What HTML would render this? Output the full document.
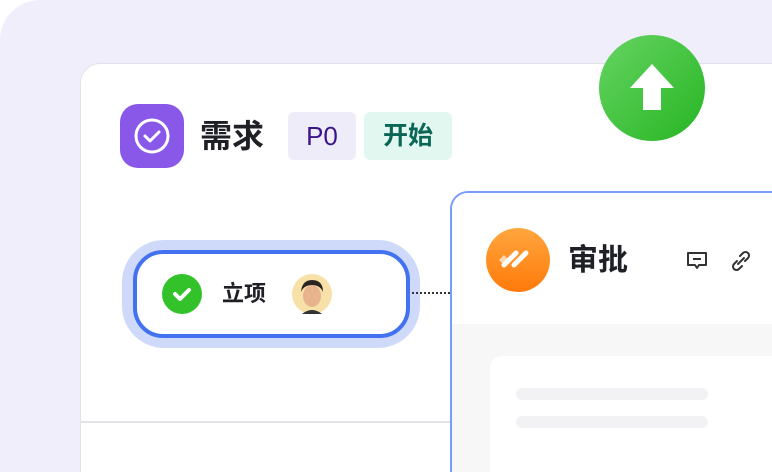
<!DOCTYPE html>
<html style="width:772px;height:472px;overflow:hidden"><head><meta charset="utf-8"><style>
*{margin:0;padding:0;box-sizing:border-box}
body{width:772px;height:472px;overflow:hidden;background:#fff;position:relative;font-family:"Liberation Sans","Noto Sans CJK SC",sans-serif}
div{position:absolute}
</style></head><body>
<div style="left:0;top:0;width:772px;height:472px;overflow:hidden">
<div style="left:0;top:0;width:820px;height:520px;background:#f0eefb;border-radius:40px"></div>
<div style="left:80px;top:63px;width:760px;height:460px;background:#fff;border:1px solid #e2e2ea;border-radius:20px"></div>
<div style="left:80px;top:421px;width:372px;height:2px;background:#e4e4e8"></div>
<div style="left:120px;top:104px;width:64px;height:64px;background:#8a58e8;border-radius:18px"></div>
<svg style="position:absolute;left:120px;top:104px" width="64" height="64"><circle cx="32" cy="32" r="16" fill="none" stroke="#fff" stroke-width="3"/><path d="M25 32 l5 5 l9 -9" fill="none" stroke="#fff" stroke-width="3" stroke-linecap="round" stroke-linejoin="round"/></svg>
<div style="left:200px;top:114px;font-size:32px;font-weight:bold;color:#1f2026;line-height:44px">需求</div>
<div style="left:288px;top:112px;width:68px;height:48px;background:#efecf9;border-radius:6px;color:#3a148a;font-size:26px;line-height:48px;text-align:center">P0</div>
<div style="left:364px;top:112px;width:88px;height:48px;background:#e3f7f1;border-radius:6px;color:#0b6655;font-size:25px;font-weight:bold;line-height:48px;text-align:center">开始</div>
<div style="left:122px;top:240px;width:298px;height:108px;background:#cfdafa;border-radius:42px"></div>
<div style="left:133px;top:250px;width:277px;height:88px;background:#fff;border:4px solid #4272f0;border-radius:30px"></div>
<svg style="position:absolute;left:162px;top:274px" width="40" height="40"><circle cx="20" cy="20" r="20" fill="#33c22a"/><path d="M13 20 l5 5 l9 -9" fill="none" stroke="#fff" stroke-width="4" stroke-linecap="round" stroke-linejoin="round"/></svg>
<div style="left:222px;top:280px;font-size:22px;font-weight:bold;color:#1f2026;line-height:28px">立项</div>
<svg style="position:absolute;left:292px;top:274px" width="40" height="40"><circle cx="20" cy="20" r="20" fill="#f8e1a8"/><ellipse cx="20" cy="22" rx="9" ry="11" fill="#e8b48e"/><path d="M9 18 q1 -12 11 -12 q11 0 11 12 q-3 -7 -11 -7 q-8 0 -11 7z" fill="#2a2420"/><path d="M10 40 q10 -8 20 0z" fill="#333"/></svg>
<div style="left:412px;top:292px;width:38px;border-top:2px dotted #333"></div>
<div style="left:450px;top:191px;width:360px;height:320px;background:#f7f7f8;border:2px solid #7a9bf6;border-radius:18px;overflow:hidden">
 <div style="left:0;top:0;width:360px;height:131px;background:#fff"></div>
 <div style="left:38px;top:163px;width:330px;height:200px;background:#fff;border-radius:12px"></div>
 <div style="left:64px;top:195px;width:192px;height:12px;background:#f2f2f4;border-radius:6px"></div>
 <div style="left:64px;top:223px;width:192px;height:12px;background:#f2f2f4;border-radius:6px"></div>
</div>
<svg style="position:absolute;left:486px;top:228px" width="64" height="64"><defs><linearGradient id="o" x1="0" y1="0" x2="0" y2="1"><stop offset="0" stop-color="#ffa63e"/><stop offset="1" stop-color="#ff7a0a"/></linearGradient></defs><circle cx="32" cy="32" r="32" fill="url(#o)"/><path d="M13 32 l5 -5 l5 5 l-5 5z" fill="#ffd7ae"/><path d="M18 37 l12 -12 M28 37 l12 -12" stroke="#fff" stroke-width="5" stroke-linecap="round"/></svg>
<div style="left:568px;top:241px;font-size:30px;font-weight:bold;color:#1f2026;line-height:40px">审批</div>
<svg style="position:absolute;left:686px;top:250px" width="22" height="22"><path d="M2 3 h18 v12 h-7 l-2 3 l-2 -3 h-7z" fill="none" stroke="#333" stroke-width="2" stroke-linejoin="round"/><path d="M7 9 h8" stroke="#333" stroke-width="2"/></svg>
<svg style="position:absolute;left:730px;top:250px" width="22" height="22"><g fill="none" stroke="#333" stroke-width="2" stroke-linecap="round"><path d="M10 6 l3 -3 a3 3 0 0 1 5 5 l-3 3"/><path d="M12 16 l-3 3 a3 3 0 0 1 -5 -5 l3 -3"/><path d="M8 14 l6 -6"/></g></svg>
<svg style="position:absolute;left:598px;top:34px" width="108" height="108"><defs><linearGradient id="g" x1="0" y1="0" x2="1" y2="1"><stop offset="0" stop-color="#66d462"/><stop offset="1" stop-color="#27b523"/></linearGradient></defs><circle cx="54" cy="54" r="53" fill="url(#g)"/><path d="M54 30 l22 24 h-13 v22 h-18 v-22 h-13z" fill="#fff"/></svg>
</div>
</body></html>
